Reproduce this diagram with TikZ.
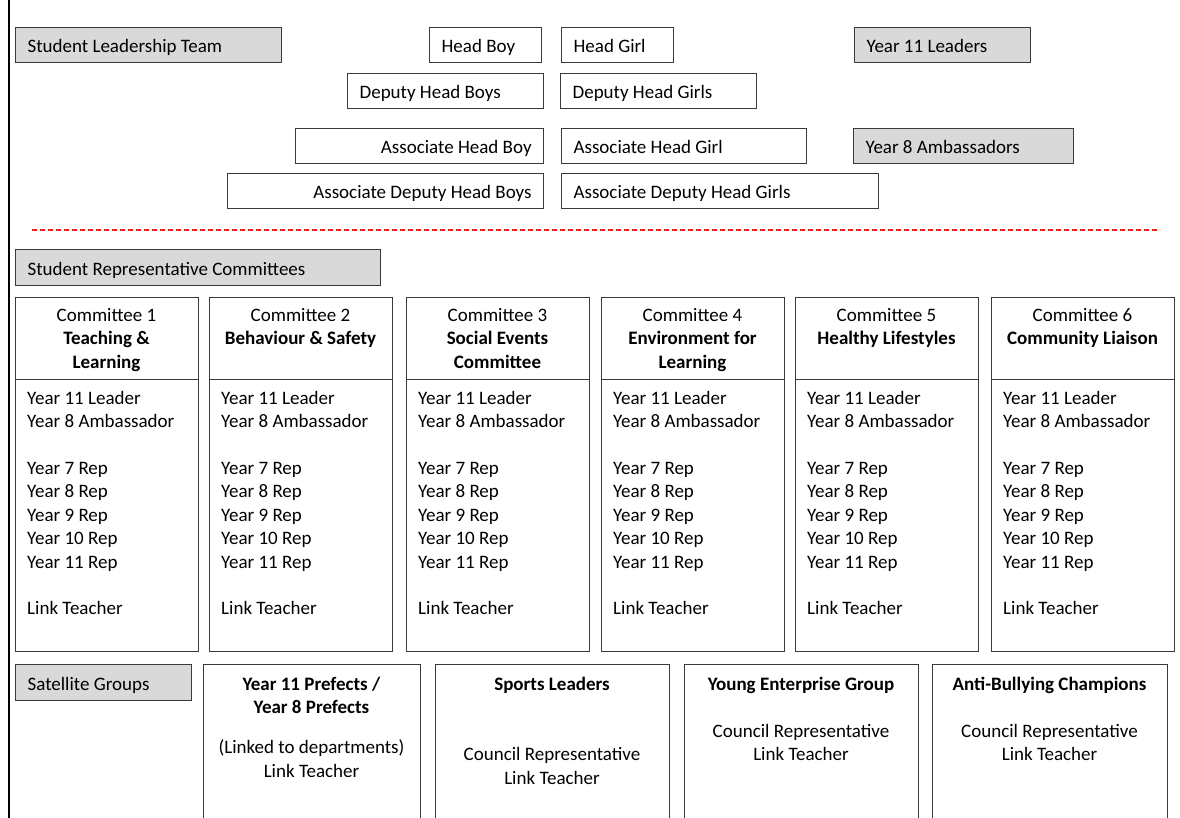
\documentclass[tikz,border=0pt]{standalone}
\usepackage{fontspec}
\setmainfont{Carlito}
\newcommand\fsz{\fontsize{19}{23.4}\selectfont}
\definecolor{boxgray}{HTML}{D9D9D9}
\definecolor{edge}{HTML}{3A3A3A}
\definecolor{dashred}{HTML}{F02020}
\tikzset{
  tbox/.style={draw=edge, line width=1.2pt, anchor=north west, minimum height=35pt,
    inner xsep=12pt, inner ysep=0pt, text height=15pt, text depth=0pt, font=\fsz, align=flush left},
  gbox/.style={tbox, fill=boxgray},
  frame/.style={draw=edge, line width=1.2pt, anchor=north west, inner sep=0pt},
  txt/.style={inner sep=0pt, font=\fsz},
}
\begin{document}
\begin{tikzpicture}[x=1pt,y=-1pt]
\useasboundingbox (0,0) rectangle (1180,818);
\clip (0,0) rectangle (1180,818);

% left rule
\coordinate (vt) at (9,-5);
\coordinate (vb) at (9,825);
\draw[line width=2.6pt] (vt) -- (vb);

% leadership team
\node[gbox, text width=242pt] (slt) at (15,27) {Student Leadership Team};
\node[tbox, text width=88pt] (hb) at (429,27) {Head Boy};
\node[tbox, text width=88pt] (hg) at (561,27) {Head Girl};
\node[gbox, text width=152pt] (y11l) at (854,27) {Year 11 Leaders};
\node[tbox, text width=172pt] (dhb) at (347,73) {Deputy Head Boys};
\node[tbox, text width=172pt] (dhg) at (560,73) {Deputy Head Girls};
\node[tbox, text width=224pt, align=flush right] (ahb) at (295,128) {Associate Head Boy};
\node[tbox, text width=221pt] (ahg) at (561,128) {Associate Head Girl};
\node[gbox, text width=196pt] (y8a) at (853,128) {Year 8 Ambassadors};
\node[tbox, text width=292pt, align=flush right] (adhb) at (227,173) {Associate Deputy Head Boys};
\node[tbox, text width=293pt] (adhg) at (561,173) {Associate Deputy Head Girls};

% dashed separator
\coordinate (dl1) at (32,230);
\coordinate (dl2) at (1160,230);
\draw[dashred, line width=1.1pt, dash pattern=on 5pt off 3pt] (dl1) -- (dl2);

% committees
\node[gbox, text width=341pt, minimum height=36pt] (src) at (15,249) {Student Representative Committees};

\foreach \i/\x/\head in {
  1/15/{Committee 1\\\textbf{Teaching \&}\\\textbf{Learning}},
  2/209/{Committee 2\\\textbf{Behaviour \& Safety}},
  3/406/{Committee 3\\\textbf{Social Events}\\\textbf{Committee}},
  4/601/{Committee 4\\\textbf{Environment for}\\\textbf{Learning}},
  5/795/{Committee 5\\\textbf{Healthy Lifestyles}},
  6/991/{Committee 6\\\textbf{Community Liaison}}} {
  \node[frame, minimum width=183pt, minimum height=82pt] (c\i h) at (\x,297) {};
  \node[frame, minimum width=183pt, minimum height=272pt] (c\i b) at (\x,379) {};
  \node[txt, align=center, anchor=north] (c\i ht) at (\x+91.5,308) {\head};
  \node[txt, align=left, anchor=north west] (c\i bt) at (\x+12,391)
    {Year 11 Leader\\Year 8 Ambassador\\[23.4pt]Year 7 Rep\\Year 8 Rep\\Year 9 Rep\\Year 10 Rep\\Year 11 Rep\\[23.4pt]Link Teacher};
}

% satellite groups
\node[gbox, text width=152pt, minimum height=36pt] (sat) at (15,664) {Satellite Groups};

\node[frame, minimum width=217pt, minimum height=200pt] (s1) at (203,664) {};
\node[frame, minimum width=234pt, minimum height=200pt] (s2) at (435,664) {};
\node[frame, minimum width=234pt, minimum height=200pt] (s3) at (684,664) {};
\node[frame, minimum width=235pt, minimum height=200pt] (s4) at (932,664) {};

\node[txt, align=center, anchor=north] (s1t) at (311.5,677)
  {\textbf{Year 11 Prefects /}\\\textbf{Year 8 Prefects}\\[16.6pt](Linked to departments)\\Link Teacher};
\node[txt, align=center, anchor=north] (s2t) at (552,677)
  {\textbf{Sports Leaders}\\[46.8pt]Council Representative\\Link Teacher};
\node[txt, align=center, anchor=north] (s3t) at (801,677)
  {\textbf{Young Enterprise Group}\\[23.4pt]Council Representative\\Link Teacher};
\node[txt, align=center, anchor=north] (s4t) at (1049.5,677)
  {\textbf{Anti-Bullying Champions}\\[23.4pt]Council Representative\\Link Teacher};
\end{tikzpicture}
\end{document}
